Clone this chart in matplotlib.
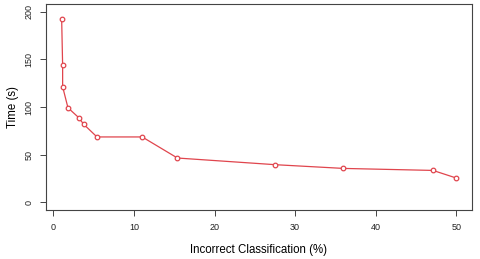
import numpy as np
import matplotlib.pyplot as plt

plt.rcParams['font.family'] = ['Liberation Sans', 'DejaVu Sans']

err = [1.04, 1.16, 1.16, 1.82, 3.15, 3.77, 5.42, 11.03, 15.4, 27.55, 36.0, 47.1, 50.0]
temps = [192, 143.7, 121.3, 99.2, 88.9, 81.9, 68.6, 68.6, 46.5, 39.5, 35.6, 33.5, 25.5]
xt = [0, 10, 20, 30, 40, 50]
yt = [0, 50, 100, 150, 200]

fig = plt.figure(figsize=(4.8, 2.59), dpi=100)
ax = fig.add_axes([45.7/480, 1-210/259, (472-45.7)/480, (210-4)/259])

ax.plot(err, temps, color='#e0454d', lw=0.9, marker='o', ms=3.3,
        mfc='white', mec='#e0454d', mew=0.9)

ax.set_xlim(-0.94, 51.94)
ax.set_ylim(-8, 208)
ax.set_xticks(xt)
ax.set_yticks(yt)
ax.tick_params(labelsize=6.5, length=4, width=0.7, color='#444444',
               labelcolor='#222222', pad=5)
for lab in ax.get_yticklabels():
    lab.set_rotation(90)
    lab.set_va('center')
for s in ax.spines.values():
    s.set_linewidth(0.8)
    s.set_color('#444444')

ax.set_xlabel('Incorrect Classification (%)', fontsize=8.3, labelpad=9)
ax.set_ylabel('Time (s)', fontsize=8.3, labelpad=4)

fig.savefig('out.png', dpi=100)
